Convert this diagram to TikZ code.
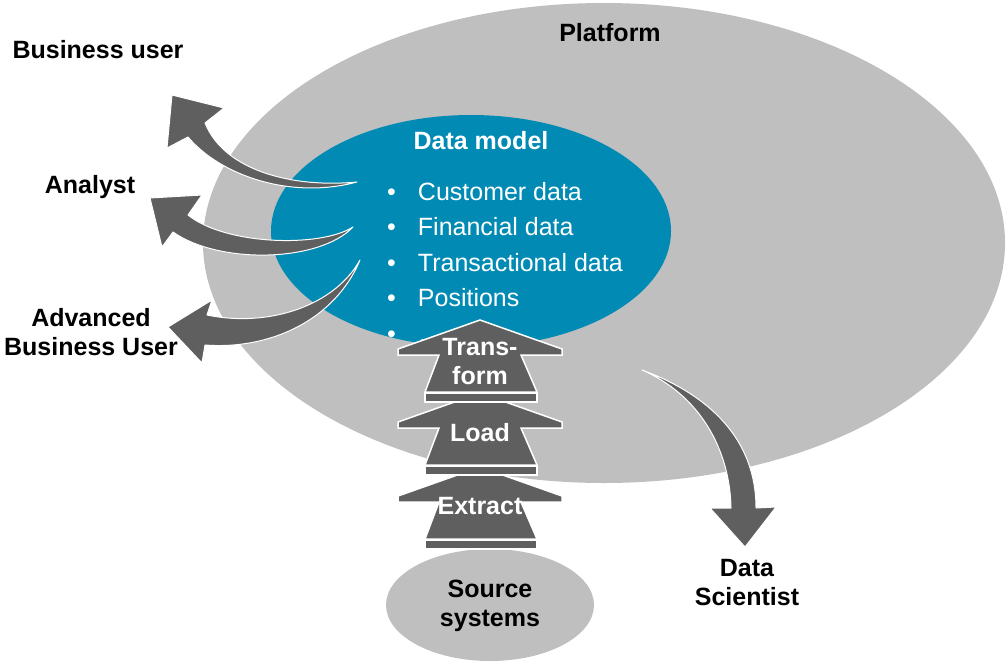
\documentclass[tikz,border=0pt]{standalone}
\usepackage{fontspec}
\setmainfont{Liberation Sans}
\definecolor{platformgray}{RGB}{191,191,191}
\definecolor{modelblue}{RGB}{0,138,180}
\definecolor{arrowgray}{RGB}{95,95,95}
\begin{document}
\begin{tikzpicture}[x=1pt,y=-1pt,
        role/.style={font=\fontsize{25}{29}\selectfont\bfseries, align=center},
        inlabel/.style={role, text=white},
        item/.style={font=\fontsize{25}{30}\selectfont, text=white, inner sep=0pt, anchor=base west},
        flow/.style={fill=arrowgray, draw=white, line width=1pt, line join=round},
        stage/.style={fill=arrowgray, draw=white, line width=1.5pt}]
        \useasboundingbox (0,0) rectangle (1008,664);
        \fill[platformgray] (604,243) ellipse [x radius=401, y radius=240];
        \fill[modelblue] (471,231) ellipse [x radius=200, y radius=116];
        \fill[platformgray] (490,605) ellipse [x radius=104, y radius=56];

        \node[role] (platform) at (610,33) {Platform};
        \node[inlabel] (model) at (481,141) {Data model};
        \foreach \txt [count=\i] in {Customer data, Financial data, Transactional data, Positions, \dots}
          \node[item] (item\i) at (387,164.4+35.6*\i) {\textbullet\hspace{22pt}\txt};

        % extract, load, transform
        \foreach \t in {467,393,320} {
          \draw[stage] (480,\t) -- (562,\t+29) -- (562,\t+35) -- (521,\t+35) -- (537,\t+72)
            -- (425,\t+72) -- (439,\t+35) -- (398,\t+35) -- (398,\t+29) -- cycle;
          \draw[stage] (425,\t+73) rectangle (537,\t+82);
        }
        \node[inlabel] (transform) at (480,362) {Trans-\\form};
        \node[inlabel] (load) at (480,433) {Load};
        \node[inlabel] (extract) at (480,506) {Extract};
        \node[role] (source) at (490,606) {Source\\systems};

        \draw[flow] (357,182) .. controls (290,200) and (220,175) .. (188,137)
          -- (167,148) -- (172,95) -- (224,108) -- (205,123)
          .. controls (225,172) and (295,188) .. (357,182) -- cycle;
        \draw[flow] (353,227) .. controls (320,262) and (220,265) .. (173,232)
          -- (162,247) -- (150,198) -- (202,195) -- (188,215)
          .. controls (225,245) and (320,248) .. (353,227) -- cycle;
        \draw[flow] (360,260) .. controls (335,320) and (270,350) .. (205,345)
          -- (202,363) -- (168,327) -- (212,300) -- (207,315)
          .. controls (270,328) and (335,305) .. (360,260) -- cycle;
        \draw[flow] (642,370) .. controls (710,395) and (756,440) .. (756,508)
          -- (776,507) -- (745,547) -- (710,508) -- (731,508)
          .. controls (730,450) and (700,395) .. (642,370) -- cycle;

        \node[role] (business) at (98,50) {Business user};
        \node[role] (analyst) at (90,187) {Analyst};
        \node[role] (advanced) at (91,332) {Advanced\\Business User};
        \node[role] (scientist) at (747,583) {Data\\Scientist};
      \end{tikzpicture}
\end{document}
